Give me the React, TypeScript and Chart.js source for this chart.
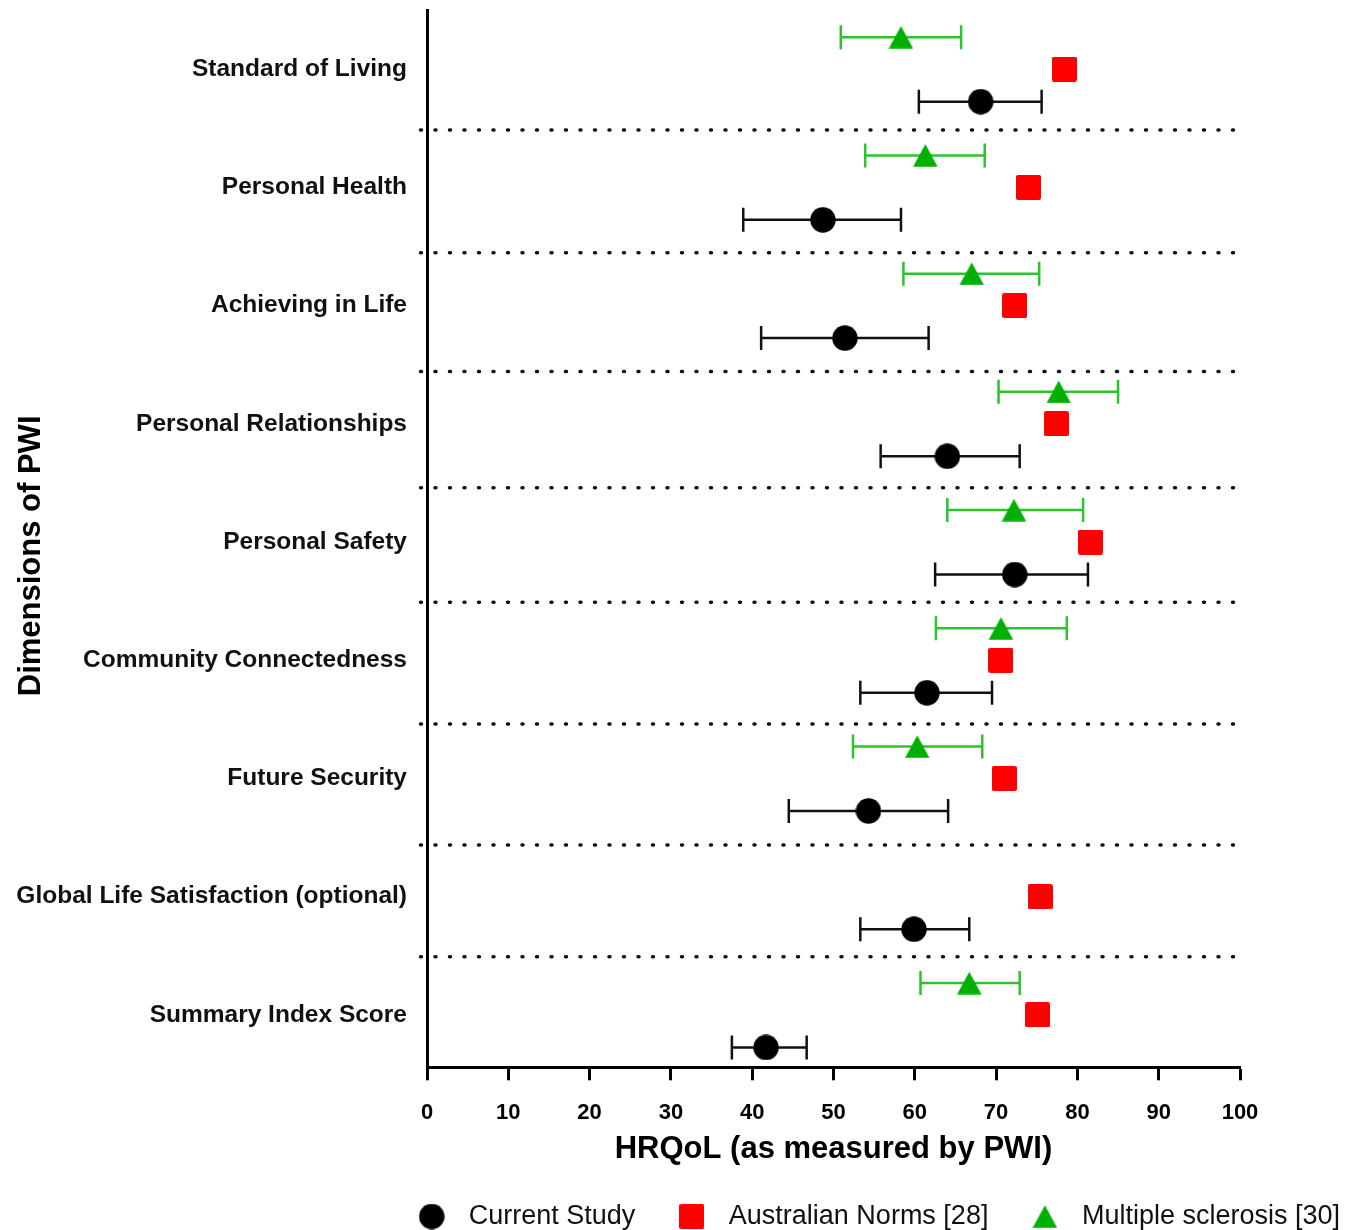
import React, { useEffect, useRef } from 'react';
import { Chart, registerables } from 'chart.js';

Chart.register(...registerables);

// ---------- data ----------
const categories = [
  'Standard of Living',
  'Personal Health',
  'Achieving in Life',
  'Personal Relationships',
  'Personal Safety',
  'Community Connectedness',
  'Future Security',
  'Global Life Satisfaction (optional)',
  'Summary Index Score',
];

const currentStudyMean = [68.1, 48.7, 51.4, 64.0, 72.3, 61.5, 54.3, 59.9, 41.7];
const currentStudyLow = [60.5, 38.9, 41.1, 55.8, 62.5, 53.3, 44.5, 53.3, 37.5];
const currentStudyHigh = [75.6, 58.3, 61.7, 72.9, 81.3, 69.5, 64.1, 66.7, 46.7];

const australianNorms = [78.4, 74.0, 72.3, 77.4, 81.6, 70.6, 71.0, 75.4, 75.1];

const msMean = [58.3, 61.3, 67.0, 77.7, 72.2, 70.6, 60.3, null, 66.7];
const msLow = [50.9, 53.9, 58.6, 70.3, 64.0, 62.6, 52.4, null, 60.7];
const msHigh = [65.7, 68.6, 75.3, 85.0, 80.7, 78.7, 68.3, null, 72.9];

const seriesLabels = ['Current Study', 'Australian Norms [28]', 'Multiple sclerosis [30]'];

// dotted separators between the dimensions (in row units)
const separatorPositions = [0.514, 1.554, 2.558, 3.54, 4.509, 5.539, 6.563, 7.508];
const separatorEnds = [100, 100, 100, 99.4, 100, 99.2, 100, 100];
const separatorStart = -0.8;

const xMin = 0;
const xMax = 100;
const xStep = 10;

// ---------- styling ----------
const BLACK = '#000000';
const RED = '#fe0000';
const GREEN = '#00b000';
const GREEN_BAR = '#2bc42b';
const msOffset = -0.27;
const normsOffset = 0;
const currentOffset = 0.275;

const FONT = "'Liberation Sans', Arial, Helvetica, sans-serif";

const CANVAS_W = 1358;
const CANVAS_H = 1232;

function makeCircle(d: number, color: string) {
  const c = document.createElement('canvas');
  c.width = d;
  c.height = d;
  const ctx = c.getContext('2d')!;
  ctx.fillStyle = color;
  ctx.beginPath();
  ctx.arc(d / 2, d / 2, d / 2 - 0.3, 0, Math.PI * 2);
  ctx.fill();
  return c;
}

function makeSquare(s: number, r: number, color: string) {
  const c = document.createElement('canvas');
  c.width = s;
  c.height = s;
  const ctx = c.getContext('2d')!;
  ctx.fillStyle = color;
  ctx.beginPath();
  ctx.moveTo(r, 0);
  ctx.lineTo(s - r, 0);
  ctx.quadraticCurveTo(s, 0, s, r);
  ctx.lineTo(s, s - r);
  ctx.quadraticCurveTo(s, s, s - r, s);
  ctx.lineTo(r, s);
  ctx.quadraticCurveTo(0, s, 0, s - r);
  ctx.lineTo(0, r);
  ctx.quadraticCurveTo(0, 0, r, 0);
  ctx.closePath();
  ctx.fill();
  return c;
}

function makeTriangle(w: number, h: number, color: string) {
  const c = document.createElement('canvas');
  c.width = w;
  c.height = h;
  const ctx = c.getContext('2d')!;
  ctx.fillStyle = color;
  ctx.beginPath();
  ctx.moveTo(w / 2, 0.3);
  ctx.lineTo(w - 0.3, h - 0.3);
  ctx.lineTo(0.3, h - 0.3);
  ctx.closePath();
  ctx.fill();
  return c;
}

function errorSegments(low: (number | null)[], high: (number | null)[], offset: number) {
  const pts: { x: number | null; y: number | null }[] = [];
  low.forEach((lo, i) => {
    const hi = high[i];
    if (lo == null || hi == null) return;
    pts.push({ x: lo, y: i + offset }, { x: hi, y: i + offset }, { x: null, y: null });
  });
  return pts;
}

export default function App() {
  const ref = useRef<HTMLCanvasElement | null>(null);

  useEffect(() => {
    document.documentElement.style.overflow = 'hidden';
    document.body.style.overflow = 'hidden';
    if (!ref.current) return;

    const circleImg = makeCircle(26, BLACK);
    const squareImg = makeSquare(25, 2, RED);
    const triangleImg = makeTriangle(25, 23, GREEN);

    const currentData = currentStudyMean.map((v, i) => ({ x: v, y: i + currentOffset }));
    const normsData = australianNorms.map((v, i) => ({ x: v, y: i + normsOffset }));
    const msData: { x: number; y: number }[] = [];
    msMean.forEach((v, i) => {
      if (v != null) msData.push({ x: v, y: i + msOffset });
    });

    const sepData: { x: number | null; y: number | null }[] = [];
    separatorPositions.forEach((p, i) => {
      sepData.push({ x: separatorStart, y: p }, { x: separatorEnds[i], y: p }, { x: null, y: null });
    });

    const errorStyle = (color: string) => ({
      showLine: true,
      borderColor: color,
      borderWidth: 2.5,
      pointStyle: 'line' as const,
      pointRotation: 90,
      pointRadius: 12,
      pointHoverRadius: 12,
      pointBorderColor: color,
      pointBackgroundColor: color,
      pointBorderWidth: 2.5,
      tension: 0,
      spanGaps: false,
    });

    const chart = new Chart(ref.current, {
      type: 'scatter',
      data: {
        datasets: [
          {
            label: seriesLabels[0],
            data: currentData,
            pointStyle: circleImg as any,
            pointRadius: 13,
            backgroundColor: BLACK,
            borderColor: BLACK,
          },
          {
            label: seriesLabels[1],
            data: normsData,
            pointStyle: squareImg as any,
            pointRadius: 13,
            backgroundColor: RED,
            borderColor: RED,
          },
          {
            label: seriesLabels[2],
            data: msData,
            pointStyle: triangleImg as any,
            pointRadius: 13,
            backgroundColor: GREEN,
            borderColor: GREEN,
          },
          {
            label: 'ci-current',
            data: errorSegments(currentStudyLow, currentStudyHigh, currentOffset) as any,
            ...errorStyle('#111111'),
          },
          {
            label: 'ci-ms',
            data: errorSegments(msLow, msHigh, msOffset) as any,
            ...errorStyle(GREEN_BAR),
          },
          {
            label: 'separators',
            data: sepData as any,
            showLine: true,
            borderColor: '#111111',
            borderWidth: 3.5,
            borderDash: [1, 13.5],
            borderCapStyle: 'round',
            pointRadius: 0,
            pointHoverRadius: 0,
            tension: 0,
            spanGaps: false,
            clip: false as any,
          },
        ] as any,
      },
      options: {
        responsive: false,
        animation: false,
        events: [],
        layout: { autoPadding: false, padding: { top: 2, left: 0, right: -7, bottom: 0 } },
        plugins: {
          legend: {
            display: true,
            position: 'bottom',
            align: 'end',
            labels: {
              usePointStyle: true,
              pointStyleWidth: 47,
              padding: 33,
              color: '#111111',
              font: { family: FONT, size: 27, weight: 'normal' },
              filter: (item: any) => item.datasetIndex < 3,
            },
          },
          tooltip: { enabled: false },
        },
        scales: {
          x: {
            type: 'linear',
            position: 'bottom',
            min: xMin,
            max: xMax,
            ticks: {
              stepSize: xStep,
              color: BLACK,
              padding: 19.5,
              font: { family: FONT, size: 22, weight: 'bold' },
            },
            grid: {
              display: true,
              drawOnChartArea: false,
              drawTicks: true,
              tickLength: 13,
              tickWidth: 3,
              tickColor: BLACK,
            },
            border: { display: true, width: 3, color: BLACK },
            title: {
              display: true,
              text: 'HRQoL (as measured by PWI)',
              color: BLACK,
              font: { family: FONT, size: 31, weight: 'bold' },
              padding: { top: 0, bottom: 1.5 },
            },
            afterFit: (s: any) => {
              s.height = 102.7;
              s.paddingLeft = 0;
              s.paddingRight = 0;
            },
          },
          y: {
            type: 'linear',
            position: 'left',
            reverse: true,
            min: -0.5,
            max: 8.443,
            afterBuildTicks: (s: any) => {
              s.ticks = categories.map((_, i) => ({ value: i }));
            },
            ticks: {
              autoSkip: false,
              color: '#111111',
              padding: 20,
              font: { family: FONT, size: 24.5, weight: 'bold' },
              callback: (v: any) => categories[v as number] ?? '',
            },
            grid: { display: false, drawTicks: false },
            border: { display: true, width: 3, color: BLACK },
            title: {
              display: true,
              text: 'Dimensions of PWI    ',
              color: BLACK,
              font: { family: FONT, size: 31, weight: 'bold' },
              padding: { top: 5, bottom: 0 },
            },
            afterFit: (s: any) => {
              s.width = 419;
              s.paddingTop = 0;
              s.paddingBottom = 0;
            },
          },
          yRight: {
            type: 'linear',
            position: 'right',
            display: true,
            ticks: { display: false },
            grid: { display: false },
            border: { display: false },
            afterFit: (s: any) => {
              s.width = 133;
              s.paddingTop = 0;
              s.paddingBottom = 0;
            },
          },
        } as any,
      },
    });

    return () => {
      chart.destroy();
    };
  }, []);

  return (
    <div style={{ width: CANVAS_W, height: CANVAS_H }}>
      <canvas
        ref={ref}
        width={CANVAS_W}
        height={CANVAS_H}
        style={{ display: 'block', width: CANVAS_W, height: CANVAS_H }}
      />
    </div>
  );
}
